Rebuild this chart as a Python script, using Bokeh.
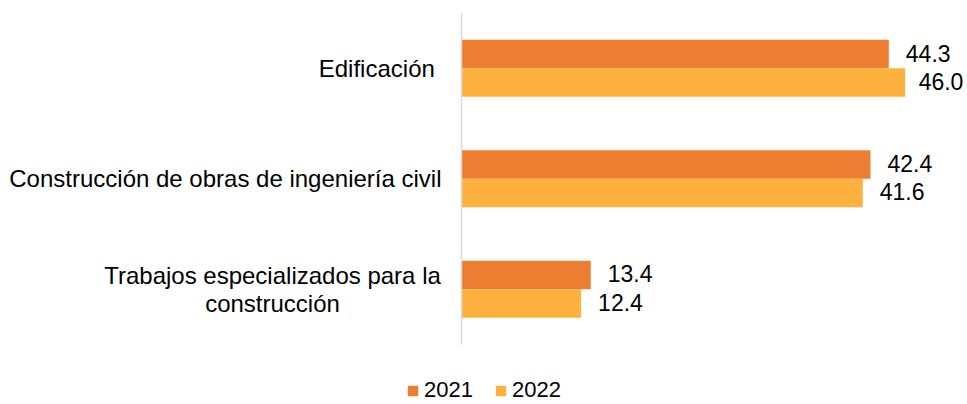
from bokeh.plotting import figure
from bokeh.models import (ColumnDataSource, LabelSet, Legend, LegendItem,
                          Range1d)
from bokeh.core.properties import value
from bokeh.embed import file_html
from bokeh.resources import INLINE

# ---- data ----
categories = ["Trabajos especializados para la\nconstrucción",
              "Construcción de obras de ingeniería civil",
              "Edificación "]
series_names = ["2021", "2022"]
values_2021 = [13.4, 42.4, 44.3]
values_2022 = [12.4, 41.6, 46.0]

# ---- layout / style ----
FONT = "Helvetica"
C2021 = "#ED7D31"
C2022 = "#FFB13F"
OFF = 0.129
BAR_H = 0.258
LINE_PX = 28
W, H = 966, 403
AXIS_PX = 461          # screen x of the value 0
PX_PER_UNIT = 9.646
VAL_FS = 23
LABEL_W = 1.95 * VAL_FS  # approx. width of a "dd.d" label

n = len(categories)
pos = list(range(n))

x0 = -AXIS_PX / PX_PER_UNIT
x1 = (W - AXIS_PX) / PX_PER_UNIT

p = figure(width=W, height=H,
           y_range=Range1d(-1.035, n - 1 + 0.614), x_range=Range1d(x0, x1),
           output_backend="svg", toolbar_location=None,
           min_border_left=0, min_border_right=0,
           min_border_top=0, min_border_bottom=0)
p.xaxis.visible = False
p.yaxis.visible = False
p.grid.visible = False
p.outline_line_color = None


def label_offset(v):
    end_px = AXIS_PX + v * PX_PER_UNIT
    room = W - 3 - LABEL_W - end_px
    return min(17, room)


src = ColumnDataSource(dict(
    cat=categories, pos=pos,
    y2021=[i + OFF for i in pos], y2022=[i - OFF for i in pos],
    v2021=values_2021, v2022=values_2022,
    l2021=[f"{v:.1f}" for v in values_2021],
    l2022=[f"{v:.1f}" for v in values_2022],
    o2021=[label_offset(v) for v in values_2021],
    o2022=[label_offset(v) for v in values_2022],
))

r1 = p.hbar(y="y2021", right="v2021", left=0,
            height=BAR_H, fill_color=C2021, line_color=None, source=src)
r2 = p.hbar(y="y2022", right="v2022", left=0,
            height=BAR_H, fill_color=C2022, line_color=None, source=src)

# vertical category axis line spanning the category bands
p.segment(x0=[0], y0=[-0.5], x1=[0], y1=[n - 0.5],
          line_color="#D9D9D9", line_width=1.5)

for field in ("2021", "2022"):
    p.add_layout(LabelSet(x="v" + field, y="y" + field,
                          text="l" + field, source=src, x_offset="o" + field,
                          y_offset=1,
                          text_baseline="middle", text_align="left",
                          text_font=value(FONT), text_font_size=f"{VAL_FS}px",
                          text_color="black"))

# category labels: single-line ones right-aligned next to the axis,
# wrapped ones centred line by line (like the original)
single_txt, single_pos = [], []
wrap_txt, wrap_pos, wrap_off = [], [], []
for c, i in zip(categories, pos):
    lines = c.split("\n")
    if len(lines) == 1:
        single_txt.append(c)
        single_pos.append(i)
    else:
        k = len(lines)
        for j, ln in enumerate(lines):
            wrap_txt.append(ln)
            wrap_pos.append(i)
            wrap_off.append(((k - 1) / 2 - j) * LINE_PX)

p.add_layout(LabelSet(x=0, y="pos", text="cat",
                      source=ColumnDataSource(dict(cat=single_txt, pos=single_pos)),
                      x_offset=-20, text_align="right", text_baseline="middle",
                      text_font=value(FONT), text_font_size="24px",
                      text_color="black"))
p.add_layout(LabelSet(x=0, y="pos", text="cat", y_offset="yo",
                      source=ColumnDataSource(dict(cat=wrap_txt, pos=wrap_pos,
                                                   yo=wrap_off)),
                      x_offset=-189, text_align="center", text_baseline="middle",
                      text_font=value(FONT), text_font_size="24px",
                      text_color="black"))

legend = Legend(items=[LegendItem(label=series_names[0], renderers=[r1]),
                       LegendItem(label=series_names[1], renderers=[r2])],
                orientation="horizontal", location=(406, 0),
                glyph_width=13, glyph_height=13, label_standoff=5, spacing=21,
                padding=0, margin=0, border_line_color=None,
                background_fill_alpha=0, label_text_font=FONT,
                label_text_font_size="22px", label_text_color="black")
p.add_layout(legend, "center")

open("out.html", "w").write(file_html(p, INLINE))
